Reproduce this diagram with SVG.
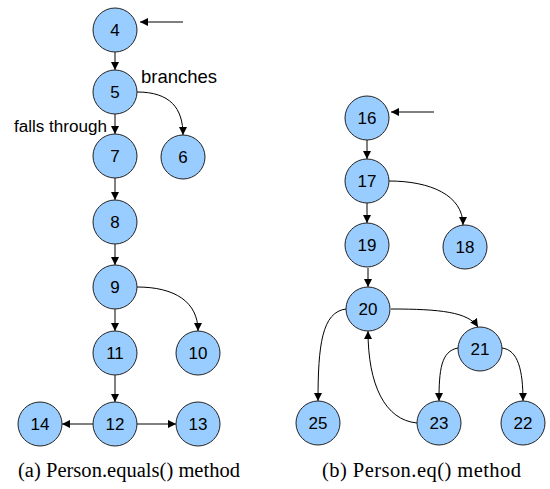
<svg xmlns="http://www.w3.org/2000/svg" width="550" height="489" viewBox="0 0 550 489">
<style>
.n circle{fill:#99ccff;stroke:#222;stroke-width:1}
.n text{font-family:"Liberation Sans",Arial,sans-serif;font-size:17px;fill:#000;text-anchor:middle}
.e path{fill:none;stroke:#000;stroke-width:1}
.e .entry{stroke:#555;stroke-width:1.3}
.lbl{font-family:"Liberation Sans",Arial,sans-serif;fill:#000}
.cap{font-family:"Liberation Serif","Times New Roman",serif;font-size:20.5px;fill:#000}
</style>
<defs>
<marker id="ah" viewBox="0 0 10 10" refX="10" refY="5" markerWidth="8" markerHeight="10" markerUnits="userSpaceOnUse" orient="auto">
<path d="M0,0 L10,5 L0,10 Z" fill="#000"/>
</marker>
<marker id="ahg" viewBox="0 0 10 10" refX="10" refY="5" markerWidth="10" markerHeight="8" markerUnits="userSpaceOnUse" orient="auto">
<path d="M0,0 L10,5 L0,10 Z" fill="#000"/>
</marker>
</defs>
<rect width="550" height="489" fill="#fff"/>
<g class="e" id="connectors">
<path class="entry" d="M183,22 L140,22" marker-end="url(#ahg)"/>
<path d="M115,52 L115,70" marker-end="url(#ah)"/>
<path d="M137,92 C170,92 183,108 183,135" marker-end="url(#ah)"/>
<path d="M115,114 L115,134" marker-end="url(#ah)"/>
<path d="M115,178 L115,200" marker-end="url(#ah)"/>
<path d="M115,244 L115,265" marker-end="url(#ah)"/>
<path d="M137,287 C175,287 198,302 198,331" marker-end="url(#ah)"/>
<path d="M115,309 L115,331" marker-end="url(#ah)"/>
<path d="M115,375 L115,402" marker-end="url(#ah)"/>
<path d="M93,424 L62,424" marker-end="url(#ah)"/>
<path d="M137,424 L176,424" marker-end="url(#ah)"/>
<path class="entry" d="M434,112 L391,112" marker-end="url(#ahg)"/>
<path d="M367,140 L367,159" marker-end="url(#ah)"/>
<path d="M389,181 C430,181 463,195 463,225" marker-end="url(#ah)"/>
<path d="M367,203 L367,223" marker-end="url(#ah)"/>
<path d="M368,268 L368,287" marker-end="url(#ah)"/>
<path d="M391,309 C440,309 468,312 478,327" marker-end="url(#ah)"/>
<path d="M346,309 C322,312 318,345 318,401" marker-end="url(#ah)"/>
<path d="M417,423 C385,420 368,385 368,331" marker-end="url(#ah)"/>
<path d="M458,348 C441,351 439,370 439,401" marker-end="url(#ah)"/>
<path d="M502,348 C518,350 523,370 523,401" marker-end="url(#ah)"/>
</g>
<g class="n" id="n4"><circle cx="115" cy="30" r="22"/><text x="115" y="36">4</text></g>
<g class="n" id="n5"><circle cx="115" cy="92" r="22"/><text x="115" y="98">5</text></g>
<g class="n" id="n6"><circle cx="183" cy="157" r="22"/><text x="183" y="163">6</text></g>
<g class="n" id="n7"><circle cx="115" cy="156" r="22"/><text x="115" y="162">7</text></g>
<g class="n" id="n8"><circle cx="115" cy="222" r="22"/><text x="115" y="228">8</text></g>
<g class="n" id="n9"><circle cx="115" cy="287" r="22"/><text x="115" y="293">9</text></g>
<g class="n" id="n10"><circle cx="198" cy="353" r="22"/><text x="198" y="359">10</text></g>
<g class="n" id="n11"><circle cx="115" cy="353" r="22"/><text x="115" y="359">11</text></g>
<g class="n" id="n12"><circle cx="115" cy="424" r="22"/><text x="115" y="430">12</text></g>
<g class="n" id="n13"><circle cx="198" cy="424" r="22"/><text x="198" y="430">13</text></g>
<g class="n" id="n14"><circle cx="40" cy="424" r="22"/><text x="40" y="430">14</text></g>
<g class="n" id="n16"><circle cx="367" cy="118" r="22"/><text x="367" y="124">16</text></g>
<g class="n" id="n17"><circle cx="367" cy="181" r="22"/><text x="367" y="187">17</text></g>
<g class="n" id="n18"><circle cx="465" cy="247" r="22"/><text x="465" y="253">18</text></g>
<g class="n" id="n19"><circle cx="367" cy="245" r="22"/><text x="367" y="251">19</text></g>
<g class="n" id="n20"><circle cx="368" cy="309" r="22"/><text x="368" y="315">20</text></g>
<g class="n" id="n21"><circle cx="480" cy="349" r="22"/><text x="480" y="355">21</text></g>
<g class="n" id="n22"><circle cx="523" cy="423" r="22"/><text x="523" y="429">22</text></g>
<g class="n" id="n23"><circle cx="439" cy="423" r="22"/><text x="439" y="429">23</text></g>
<g class="n" id="n25"><circle cx="318" cy="423" r="22"/><text x="318" y="429">25</text></g>
<text class="lbl" x="141" y="83" font-size="18.5">branches</text>
<text class="lbl" x="14" y="132" font-size="16" textLength="93" lengthAdjust="spacingAndGlyphs">falls through</text>
<text class="cap" x="18" y="477" textLength="222" lengthAdjust="spacing">(a) Person.equals() method</text>
<text class="cap" x="322" y="477" textLength="199" lengthAdjust="spacing">(b) Person.eq() method</text>
</svg>
